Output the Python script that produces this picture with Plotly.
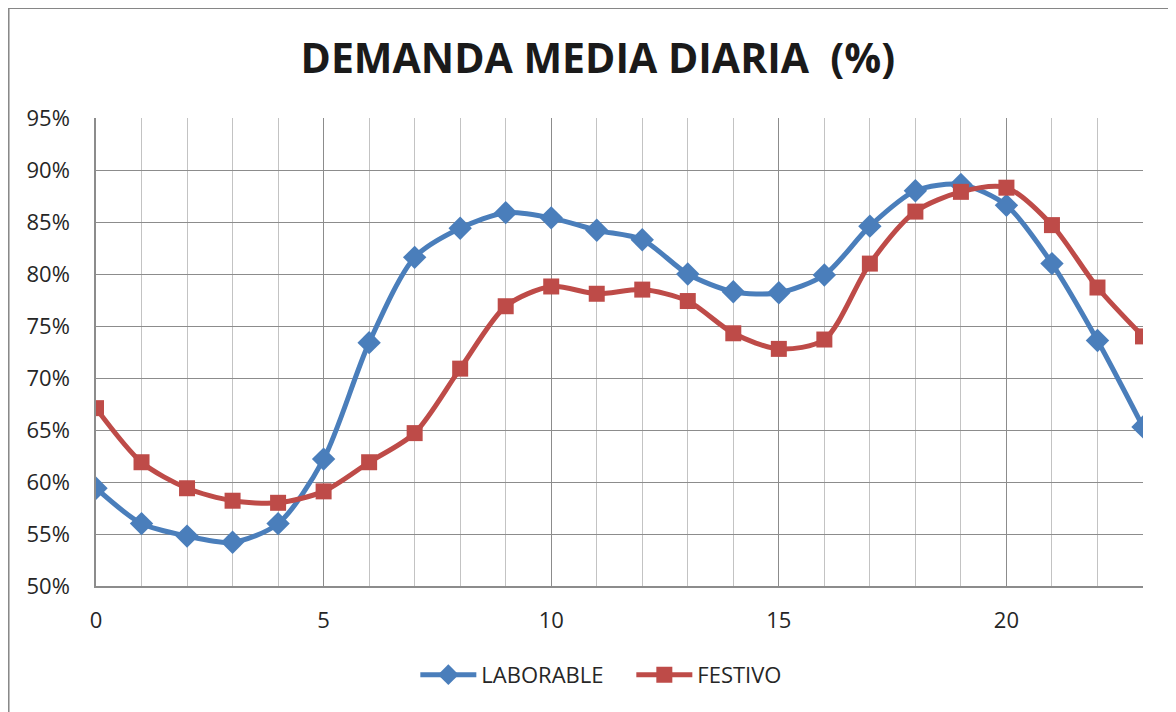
import plotly.graph_objects as go

hours = list(range(24))
laborable = [59.4, 56.0, 54.8, 54.2, 56.0, 62.2, 73.4, 81.6, 84.4, 85.9, 85.4, 84.2,
             83.3, 80.0, 78.3, 78.2, 79.9, 84.6, 88.0, 88.6, 86.6, 81.0, 73.6, 65.3]
festivo = [67.1, 61.9, 59.4, 58.2, 58.0, 59.1, 61.9, 64.7, 70.9, 76.9, 78.8, 78.1,
           78.5, 77.4, 74.3, 72.8, 73.7, 81.0, 86.0, 87.9, 88.3, 84.7, 78.7, 74.0]
laborable = [v / 100 for v in laborable]
festivo = [v / 100 for v in festivo]

title_text = "DEMANDA MEDIA DIARIA  (%)"
series_names = ["LABORABLE", "FESTIVO"]
blue = "#4A7EBB"
red = "#BE4B48"

font_family = "Open Sans, Lato, DejaVu Sans, sans-serif"

fig = go.Figure()
fig.add_trace(go.Scatter(
    x=hours, y=laborable, name=series_names[0], mode="lines+markers",
    line=dict(color=blue, width=5, shape="spline", smoothing=0.8),
    marker=dict(symbol="diamond", size=18, color=blue),
))
fig.add_trace(go.Scatter(
    x=hours, y=festivo, name=series_names[1], mode="lines+markers",
    line=dict(color=red, width=5, shape="spline", smoothing=0.8),
    marker=dict(symbol="square", size=16, color=red),
))

# page body has an 8px default margin; compensate
fig.update_layout(
    width=1168, height=704,
    paper_bgcolor="white", plot_bgcolor="white",
    margin=dict(l=88, r=33, t=110, b=126),
    font=dict(family=font_family, size=22, color="#262626"),
    title=dict(text="<b>" + title_text + "</b>", x=0.505, xanchor="center",
               y=0.928, yanchor="middle",
               font=dict(family=font_family, size=41, color="#1a1a1a")),
    showlegend=True,
    legend=dict(orientation="h", x=0.305, xanchor="left", y=-0.19, yanchor="middle",
                font=dict(size=22, color="#262626"), itemwidth=56,
                entrywidth=145, entrywidthmode="pixels"),
    shapes=[dict(type="rect", xref="paper", yref="paper",
                 x0=-0.0833, x1=1.1, y0=-0.4, y1=1.2344,
                 line=dict(color="#868686", width=1.5), layer="below")],
)

fig.update_xaxes(
    range=[0, 23], tick0=0, dtick=5, showgrid=True, gridcolor="#8C8C8C", gridwidth=1.2,
    minor=dict(dtick=1, showgrid=True, gridcolor="#C3C3C3", gridwidth=1.2),
    showline=True, linecolor="#8C8C8C", linewidth=1.5, mirror=False,
    zeroline=False, ticks="", ticklabelstandoff=14,
    tickfont=dict(size=22, color="#262626"),
)
fig.update_yaxes(
    range=[0.5, 0.95], tick0=0.5, dtick=0.05, tickformat=".0%",
    showgrid=True, gridcolor="#8C8C8C", gridwidth=1.2,
    showline=True, linecolor="#8C8C8C", linewidth=1.5,
    zeroline=False, ticks="", ticklabelstandoff=20,
    tickfont=dict(size=22, color="#262626"),
)

fig.write_html("out.html")
